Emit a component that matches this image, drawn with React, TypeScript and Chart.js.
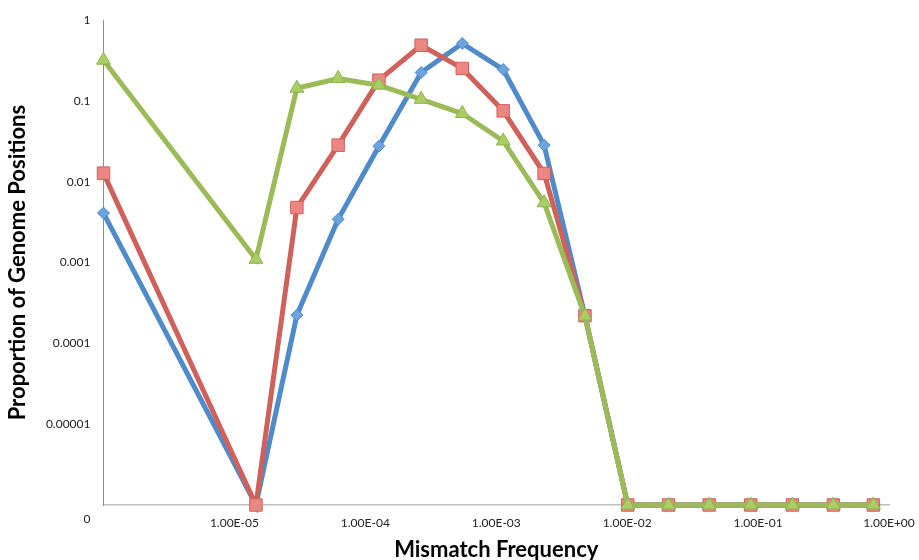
import React, { useEffect, useRef } from "react";
import { Chart, registerables } from "chart.js";

Chart.register(...registerables);

// Mismatch frequency (x) of each bin
const mismatchFreq = [
  1e-6, 1.46e-5, 3.0e-5, 6.2e-5, 1.27e-4, 2.67e-4, 5.5e-4, 1.13e-3, 2.32e-3,
  4.76e-3, 0.0101, 0.0207, 0.0423, 0.0879, 0.183, 0.376, 0.76,
];

// Proportion of genome positions per series (0 = drawn on the "0" floor)
const seriesBlue = [
  0.0041, 0, 0.000224, 0.00343, 0.0276, 0.225, 0.515, 0.245, 0.0284, 0.00022,
  0, 0, 0, 0, 0, 0, 0,
];
const seriesRed = [
  0.0128, 0, 0.0048, 0.0284, 0.181, 0.49, 0.253, 0.0755, 0.0127, 0.00022,
  0, 0, 0, 0, 0, 0, 0,
];
const seriesGreen = [
  0.32, 0.0011, 0.144, 0.19, 0.157, 0.105, 0.07, 0.032, 0.0055, 0.000218,
  0, 0, 0, 0, 0, 0, 0,
];

const xTickValues = [1e-5, 1e-4, 1e-3, 1e-2, 1e-1, 1];
const xTickLabels = ["1.00E-05", "1.00E-04", "1.00E-03", "1.00E-02", "1.00E-01", "1.00E+00"];
const yTickValues = [1e-6, 1e-5, 1e-4, 1e-3, 1e-2, 1e-1, 1];
const yTickLabels = ["0", "0.00001", "0.0001", "0.001", "0.01", "0.1", "1"];

const Y_FLOOR = 1e-6;

function toPoints(values: number[]) {
  return values.map((v, i) => ({ x: mismatchFreq[i], y: v > 0 ? v : Y_FLOOR }));
}

export default function App() {
  const canvasRef = useRef<HTMLCanvasElement | null>(null);

  useEffect(() => {
    document.body.style.margin = "0";
    const canvas = canvasRef.current;
    if (!canvas) return;
    const font = "Lato, 'Open Sans', sans-serif";
    const chart = new Chart(canvas, {
      type: "line",
      data: {
        datasets: [
          {
            label: "Series 1",
            data: toPoints(seriesBlue),
            borderColor: "#4f8acb",
            backgroundColor: "#6da4e0",
            pointBackgroundColor: "#6da4e0",
            pointBorderColor: "#4f8acb",
            pointBorderWidth: 1,
            pointStyle: "rectRot",
            pointRadius: 6,
            borderWidth: 5,
            tension: 0,
            clip: false,
            order: 3,
          },
          {
            label: "Series 2",
            data: toPoints(seriesRed),
            borderColor: "#d0605a",
            backgroundColor: "#ec8683",
            pointBackgroundColor: "#ec8683",
            pointBorderColor: "#d0605a",
            pointBorderWidth: 1,
            pointStyle: "rect",
            pointRadius: 8.8,
            borderWidth: 5,
            tension: 0,
            clip: false,
            order: 2,
          },
          {
            label: "Series 3",
            data: toPoints(seriesGreen),
            borderColor: "#9bbb59",
            backgroundColor: "#a9cf64",
            pointBackgroundColor: "#a9cf64",
            pointBorderColor: "#8fb04e",
            pointBorderWidth: 1,
            pointStyle: "triangle",
            pointRadius: 8,
            borderWidth: 5,
            tension: 0,
            clip: false,
            order: 1,
          },
        ],
      },
      options: {
        animation: false,
        responsive: true,
        maintainAspectRatio: false,
        layout: { padding: { left: 6, top: 20, right: 30, bottom: 0 } },
        plugins: {
          legend: { display: false },
          tooltip: { enabled: false },
        },
        scales: {
          x: {
            type: "logarithmic",
            min: 1e-6,
            max: 1,
            grid: { display: false, drawTicks: false },
            border: { display: true, color: "#bfbfbf", width: 1.5 },
            afterBuildTicks: (scale: any) => {
              scale.ticks = xTickValues.map((v) => ({ value: v }));
            },
            afterFit: (scale: any) => {
              scale.height = 55;
              scale.paddingRight = 0;
              scale.paddingLeft = 0;
            },
            ticks: {
              padding: 11,
              autoSkip: false,
              maxRotation: 0,
              color: "#222",
              font: { family: font, size: 12 },
              callback: (value: any) => {
                const i = xTickValues.findIndex((v) => Math.abs(Math.log10(v) - Math.log10(Number(value))) < 1e-6);
                return i >= 0 ? xTickLabels[i] : "";
              },
            },
            title: {
              display: true,
              text: "Mismatch Frequency",
              color: "#000",
              padding: { top: 0, bottom: -3 },
              font: { family: font, size: 22, weight: "bold" },
            },
          },
          y: {
            type: "logarithmic",
            min: 1e-6,
            max: 1,
            grid: { display: false, drawTicks: false },
            border: { display: true, color: "#8c8c8c", width: 1 },
            afterBuildTicks: (scale: any) => {
              scale.ticks = yTickValues.map((v) => ({ value: v }));
            },
            afterFit: (scale: any) => {
              scale.width = 97.5;
            },
            ticks: {
              padding: 13,
              autoSkip: false,
              color: "#222",
              font: { family: font, size: 12 },
              callback: (value: any) => {
                const i = yTickValues.findIndex((v) => Math.abs(Math.log10(v) - Math.log10(Number(value))) < 1e-6);
                if (i < 0) return "";
                return i === 0 ? ["", "", yTickLabels[0]] : yTickLabels[i];
              },
            },
            title: {
              display: true,
              text: "Proportion of Genome Positions",
              color: "#000",
              padding: { top: -1, bottom: 0 },
              font: { family: font, size: 22, weight: "bold" },
            },
          },
        },
      },
    } as any);
    return () => chart.destroy();
  }, []);

  return (
    <div style={{ position: "fixed", left: 0, top: 0, width: 919, height: 560, background: "#fff" }}>
      <canvas ref={canvasRef} />
    </div>
  );
}
